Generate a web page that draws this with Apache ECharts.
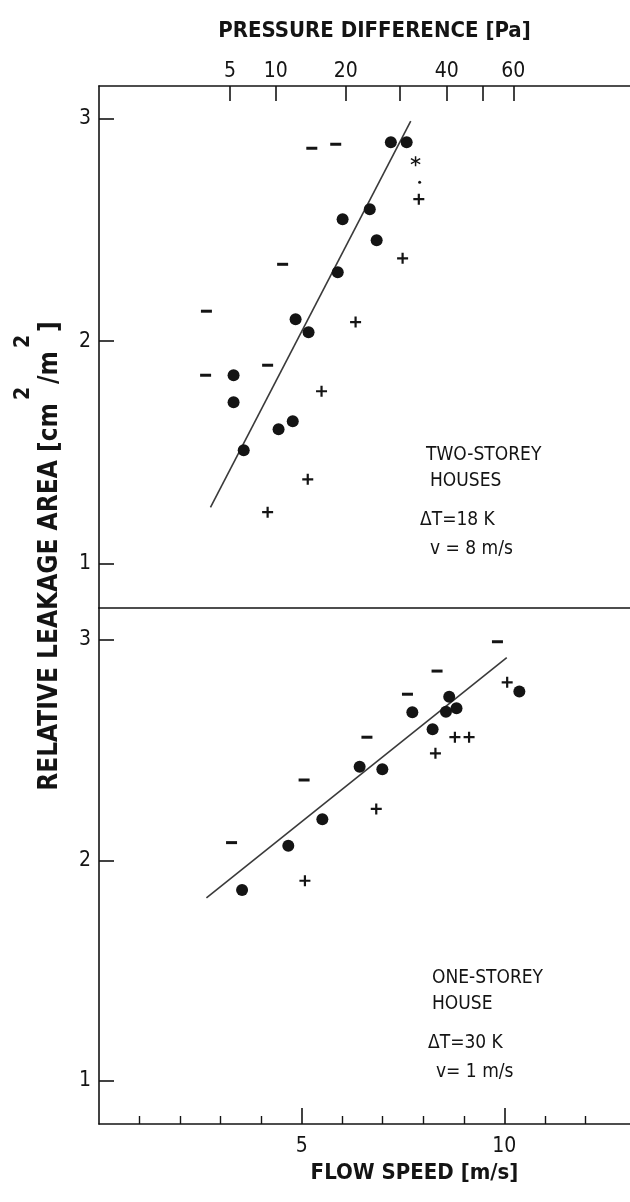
<!DOCTYPE html>
<html>
<head>
<meta charset="utf-8">
<title>Relative leakage area vs flow speed</title>
<script src="https://cdn.jsdelivr.net/npm/echarts@6/dist/echarts.min.js"></script>
<style>
  html, body { margin: 0; padding: 0; background: #fff; }
  #chart { width: 630px; height: 1202px; }
</style>
</head>
<body>
<div id="chart"></div>
<script>
// flow speed [m/s] -> relative leakage area [cm2/m2]
// two-storey houses (upper panel)
const topCircles = [
  [7.20, 2.895], [7.59, 2.895], [6.01, 2.549], [6.68, 2.594], [6.85, 2.454],
  [5.89, 2.310], [4.85, 2.099], [5.17, 2.040], [3.32, 1.847], [3.32, 1.726],
  [4.78, 1.640], [4.43, 1.604], [3.57, 1.510]
]
const topPlus = [[7.49, 2.373], [6.33, 2.086], [5.49, 1.775], [5.15, 1.379], [4.16, 1.231], [7.89, 2.639]]
const topMinus = [[5.25, 2.868], [5.84, 2.886], [4.53, 2.346], [2.65, 2.135], [2.63, 1.847], [4.16, 1.892]]
const topStar = [[7.81, 2.810]]
const topDot = [[7.91, 2.715]]
const topFit = [[2.75, 1.253], [7.69, 2.990]]

// one-storey house (lower panel)
const bottomCircles = [
  [10.37, 2.766], [8.64, 2.743], [8.56, 2.675], [8.82, 2.690], [7.73, 2.672],
  [8.23, 2.595], [6.43, 2.425], [6.99, 2.414], [5.51, 2.187], [4.67, 2.067], [3.53, 1.866]
]
const bottomPlus = [[10.07, 2.808], [8.78, 2.559], [9.13, 2.559], [8.30, 2.486], [6.84, 2.234], [5.08, 1.908]]
const bottomMinus = [[9.83, 2.992], [8.34, 2.859], [7.61, 2.754], [6.61, 2.559], [5.06, 2.365], [3.27, 2.081]]
const bottomFit = [[2.65, 1.83], [10.06, 2.92]]

// tick labels
const areaTicks = [1, 2, 3]
const speedLabels = [5, 10]
const speedMinorTicks = [1, 2, 3, 4, 6, 7, 8, 9, 11, 12]
const pressureLabels = ['5', '10', '20', '', '40', '', '60']
// where each pressure tick sits on the flow speed scale [m/s]
const pressureTickSpeed = [3.23, 4.36, 6.09, 7.43, 8.58, 9.46, 10.22]

const topNote = ['TWO-STOREY', 'HOUSES', 'ΔT=18 K', 'v = 8 m/s']
const bottomNote = ['ONE-STOREY', 'HOUSE', 'ΔT=30 K', 'v= 1 m/s']
// y axis title, split where the superscript 2s go
const areaTitle = ['RELATIVE LEAKAGE AREA [cm', '/m', ']']
const areaTitleSup = '2'

const NARROW = '"Liberation Sans Narrow", "DejaVu Sans Condensed", "Liberation Sans", sans-serif'
const INK = '#141414'
const plusPath = 'path://M4,0H6V4H10V6H6V10H4V6H0V4H4Z'
const starPath = 'path://M4.3,0h1.4v3.8l3.3,-1.9l0.7,1.2l-3.3,1.9l3.3,1.9l-0.7,1.2l-3.3,-1.9v3.8h-1.4v-3.8l-3.3,1.9l-0.7,-1.2l3.3,-1.9l-3.3,-1.9l0.7,-1.2l3.3,1.9z'

const axisLine = { lineStyle: { color: INK, width: 1.6 } }
const tickFont = { color: INK, fontFamily: NARROW, fontSize: 21 }

function xBase (grid, position) {
  return {
    type: 'value',
    gridIndex: grid,
    position: position,
    min: 0,
    max: 13.1,
    splitLine: { show: false },
    axisLine: axisLine
  }
}

function yBase (grid, min, max) {
  return {
    type: 'value',
    gridIndex: grid,
    min: min,
    max: max,
    splitLine: { show: false },
    axisLine: axisLine,
    axisTick: { inside: true, length: 15, customValues: areaTicks, lineStyle: { color: INK, width: 1.6 } },
    axisLabel: Object.assign({ customValues: areaTicks, margin: 8 }, tickFont)
  }
}

function marks (data, grid, symbol, size) {
  return {
    type: 'scatter',
    data: data,
    xAxisIndex: grid === 0 ? 0 : 2,
    yAxisIndex: grid,
    symbol: symbol,
    symbolSize: size,
    itemStyle: { color: INK, opacity: 1 },
    silent: true,
    z: 3
  }
}

function fitLine (data, grid) {
  return {
    type: 'line',
    data: data,
    xAxisIndex: grid === 0 ? 0 : 2,
    yAxisIndex: grid,
    symbol: 'none',
    lineStyle: { color: '#3a3a3a', width: 1.6 },
    silent: true,
    z: 2
  }
}

function notes (lines, xs, ys) {
  return lines.map((t, i) => ({
    type: 'text',
    x: xs[i],
    y: ys[i],
    silent: true,
    style: {
      text: t,
      fill: INK,
      font: '19px ' + NARROW,
      verticalAlign: 'middle'
    }
  }))
}

// rotated y title: main pieces on one line, the 2s raised to the left of it
function areaTitleTexts (cx, cy, supX) {
  const mainFont = 'bold 26px ' + NARROW
  const supFont = 'bold 21px ' + NARROW
  const ctx = document.createElement('canvas').getContext('2d')
  ctx.font = mainFont
  const widths = areaTitle.map(t => ctx.measureText(t).width)
  ctx.font = supFont
  const slot = ctx.measureText(areaTitleSup).width + 6
  const total = widths.reduce((a, b) => a + b, 0) + slot * 2
  let y = cy + total / 2
  const out = []
  areaTitle.forEach((t, i) => {
    out.push({ type: 'text', x: cx, y: y, rotation: Math.PI / 2, silent: true,
      style: { text: t, font: mainFont, fill: INK, align: 'left', verticalAlign: 'middle' } })
    y -= widths[i]
    if (i < areaTitle.length - 1) {
      out.push({ type: 'text', x: supX, y: y - 3, rotation: Math.PI / 2, silent: true,
        style: { text: areaTitleSup, font: supFont, fill: INK, align: 'left', verticalAlign: 'middle' } })
      y -= slot
    }
  })
  return out
}

const chart = echarts.init(document.getElementById('chart'))

const option = {
  animation: false,
  backgroundColor: '#fff',
  grid: [
    { left: 99, right: 0, top: 86, height: 522, outerBoundsMode: 'none' },
    { left: 99, right: 0, top: 608, height: 516, outerBoundsMode: 'none' }
  ],
  xAxis: [
    Object.assign(xBase(0, 'top'), {
      name: 'PRESSURE DIFFERENCE [Pa]',
      nameLocation: 'middle',
      nameGap: 44,
      nameTextStyle: { color: INK, fontFamily: NARROW, fontWeight: 'bold', fontSize: 22, padding: [0, 0, 0, 20] },
      axisTick: { inside: true, length: 15, customValues: pressureTickSpeed, lineStyle: { color: INK, width: 1.6 } },
      axisLabel: Object.assign({
        customValues: pressureTickSpeed,
        margin: 4,
        formatter: v => pressureLabels[pressureTickSpeed.indexOf(v)]
      }, tickFont)
    }),
    Object.assign(xBase(0, 'bottom'), {
      axisTick: { show: false },
      axisLabel: { show: false }
    }),
    Object.assign(xBase(1, 'bottom'), {
      name: 'FLOW SPEED [m/s]',
      nameLocation: 'middle',
      nameGap: 38,
      nameTextStyle: { color: INK, fontFamily: NARROW, fontWeight: 'bold', fontSize: 22, padding: [0, 0, 0, 100] },
      axisTick: { inside: true, length: 8, customValues: speedMinorTicks, lineStyle: { color: INK, width: 1.4 } },
      axisLabel: Object.assign({ customValues: speedLabels, margin: 12 }, tickFont)
    }),
    Object.assign(xBase(1, 'bottom'), {
      axisLine: { show: false },
      axisTick: { inside: true, length: 16, customValues: speedLabels, lineStyle: { color: INK, width: 1.6 } },
      axisLabel: { show: false }
    })
  ],
  yAxis: [
    yBase(0, 0.8, 3.148),
    yBase(1, 0.805, 3.145)
  ],
  graphic: areaTitleTexts(50, 556, 24).concat(
    notes(topNote, [426, 430, 420, 430], [455, 481, 520, 549]),
    notes(bottomNote, [432, 432, 428, 436], [978, 1004, 1043, 1072])
  ),
  series: [
    fitLine(topFit, 0),
    marks(topCircles, 0, 'circle', 12),
    marks(topPlus, 0, plusPath, 11),
    marks(topMinus, 0, 'rect', [11, 3]),
    marks(topStar, 0, starPath, 10),
    marks(topDot, 0, 'circle', 3),
    fitLine(bottomFit, 1),
    marks(bottomCircles, 1, 'circle', 12),
    marks(bottomPlus, 1, plusPath, 11),
    marks(bottomMinus, 1, 'rect', [11, 3])
  ]
}

chart.setOption(option)
window.addEventListener('resize', () => chart.resize())
</script>
</body>
</html>
